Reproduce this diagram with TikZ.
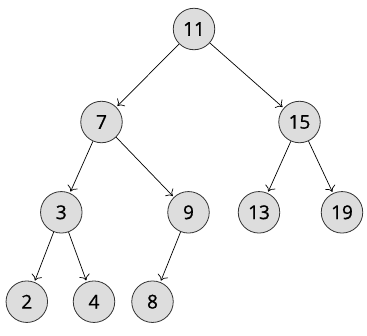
\documentclass[tikz,border=0pt]{standalone}
\usepackage{fontspec}
\setmainfont{Open Sans}
\newfontfamily\numfont{Open Sans}[FakeBold=0.8]
\usetikzlibrary{arrows.meta}
\definecolor{nodegray}{HTML}{DDDDDD}
\begin{document}
\begin{tikzpicture}[x=1pt,y=-1pt,
  tnode/.style={circle,draw=black!80,line width=0.8pt,fill=nodegray,minimum size=41.5pt,inner sep=0pt,font=\numfont\fontsize{19}{21}\selectfont},
  edge/.style={line width=0.7pt,-{To[length=5.5pt,width=11pt]},shorten >=1.5pt}]
\useasboundingbox (0,0) rectangle (367,335);
\node[tnode] (n11) at (194,29) {11};
\node[tnode] (n7) at (101.5,122) {7};
\node[tnode] (n15) at (299.5,122) {15};
\node[tnode] (n3) at (61.3,212.3) {3};
\node[tnode] (n9) at (188.5,212.3) {9};
\node[tnode] (n13) at (259,212.3) {13};
\node[tnode] (n19) at (342,212.3) {19};
\node[tnode] (n2) at (26.8,301.7) {2};
\node[tnode] (n4) at (94,301.7) {4};
\node[tnode] (n8) at (152.5,301.7) {8};
\draw[edge] (n11) -- (n7);
\draw[edge] (n11) -- (n15);
\draw[edge] (n7) -- (n3);
\draw[edge] (n7) -- (n9);
\draw[edge] (n15) -- (n13);
\draw[edge] (n15) -- (n19);
\draw[edge] (n3) -- (n2);
\draw[edge] (n3) -- (n4);
\draw[edge] (n9) -- (n8);
\end{tikzpicture}
\end{document}
